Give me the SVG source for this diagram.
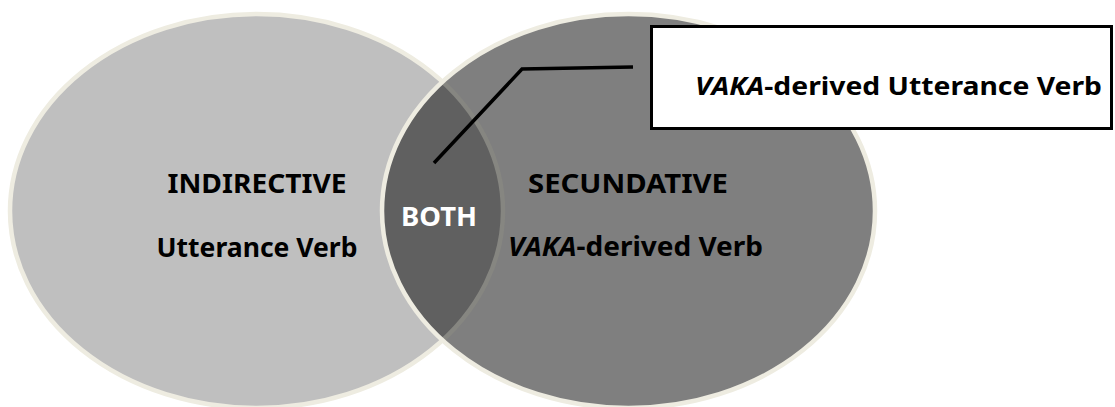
<svg xmlns="http://www.w3.org/2000/svg" width="1115" height="407" viewBox="0 0 1115 407">
<style>
.lbl{font-family:"Noto Sans","Open Sans",sans-serif;font-weight:bold;font-size:27px;fill:#000;text-anchor:middle}
.box{font-family:"Noto Sans","Open Sans",sans-serif;font-weight:bold;font-size:25px;fill:#000;text-anchor:middle}
.edge{fill:none;stroke:#EEECE1;stroke-width:4.5}
</style>
<defs>
<clipPath id="clipR"><ellipse cx="628.5" cy="211" rx="246.5" ry="197"/></clipPath>
</defs>
<rect width="1115" height="407" fill="#fff"/>
<g id="indirective">
<ellipse cx="256.5" cy="211" rx="246.5" ry="197" fill="#BFBFBF" class="edge" style="fill:#BFBFBF"/>
<text class="lbl" x="257" y="193" textLength="179" lengthAdjust="spacingAndGlyphs">INDIRECTIVE</text>
<text class="lbl" x="257" y="257" textLength="201" lengthAdjust="spacingAndGlyphs">Utterance Verb</text>
</g>
<g id="secundative">
<ellipse cx="628.5" cy="211" rx="246.5" ry="197" fill="#7F7F7F"/>
<g clip-path="url(#clipR)">
<ellipse cx="256.5" cy="211" rx="246.5" ry="197" fill="#606060"/>
<ellipse cx="256.5" cy="211" rx="246.5" ry="197" fill="none" stroke="#868681" stroke-width="4.5"/>
</g>
<ellipse cx="628.5" cy="211" rx="246.5" ry="197" class="edge"/>
<text class="lbl" x="628" y="193" textLength="200" lengthAdjust="spacingAndGlyphs">SECUNDATIVE</text>
<text class="lbl" x="635.5" y="256" textLength="255" lengthAdjust="spacingAndGlyphs"><tspan font-style="italic">VAKA</tspan>-derived Verb</text>
</g>
<g id="both">
<text class="lbl" x="439" y="226" textLength="76" lengthAdjust="spacingAndGlyphs" style="fill:#fff">BOTH</text>
</g>
<g id="connectors">
<polyline points="434,163 522,69 633,67" fill="none" stroke="#000" stroke-width="3.5"/>
</g>
<g id="callout">
<rect x="651.5" y="26.5" width="460" height="102" fill="#fff" stroke="#000" stroke-width="3"/>
<text class="box" x="898.5" y="95" textLength="407" lengthAdjust="spacingAndGlyphs"><tspan font-style="italic">VAKA</tspan>-derived Utterance Verb</text>
</g>
</svg>
